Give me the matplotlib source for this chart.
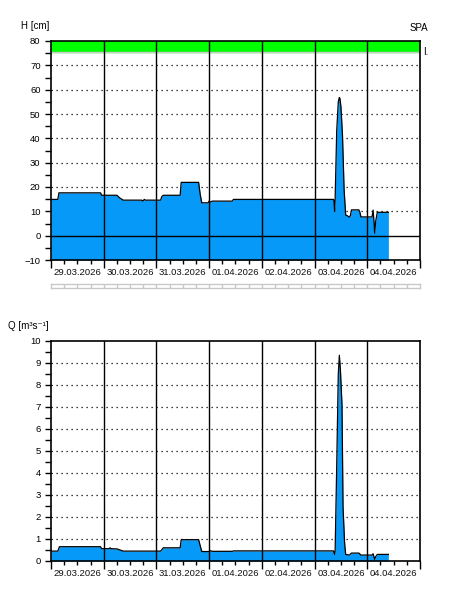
import matplotlib
matplotlib.use("Agg")
import matplotlib.pyplot as plt
import numpy as np

plt.rcParams['font.family'] = ['Liberation Sans', 'DejaVu Sans']

# time in days since 29.03.2026 00:00
h_days = [0.0, 0.13, 0.15, 0.94, 0.96, 1.25, 1.30, 1.37, 1.72, 1.74, 1.77, 1.79, 2.08, 2.10, 2.13,
          2.45, 2.47, 2.80, 2.83, 2.86, 2.98, 3.00, 3.02, 3.06, 3.44, 3.46, 5.36, 5.37, 5.38, 5.39,
          5.42, 5.45, 5.47, 5.48, 5.50, 5.53, 5.56, 5.59, 5.62, 5.66, 5.68, 5.70, 5.84, 5.86, 5.88,
          6.09, 6.11, 6.13, 6.14, 6.16, 6.19, 6.40]
h_vals = [14.9, 14.9, 17.6, 17.6, 16.6, 16.6, 15.6, 14.6, 14.6, 14.2, 14.9, 14.6, 14.6, 16.0, 16.6,
          16.6, 21.9, 21.9, 17.0, 13.5, 13.5, 14.2, 13.8, 14.2, 14.2, 14.9, 14.9, 14.0, 10.0, 14.9,
          43.0, 55.0, 56.8, 56.5, 53.0, 41.0, 19.0, 8.5, 8.2, 7.6, 8.3, 10.6, 10.6, 9.6, 7.7,
          7.7, 10.5, 5.0, 1.0, 6.0, 9.6, 9.6]

q_days = [0.0, 0.13, 0.16, 0.94, 0.96, 1.10, 1.12, 1.14, 1.25, 1.37, 2.08, 2.13, 2.45, 2.47, 2.80,
          2.86, 3.00, 3.02, 3.06, 3.44, 3.46, 5.36, 5.38, 5.39, 5.42, 5.45, 5.47, 5.49, 5.52, 5.54,
          5.57, 5.59, 5.66, 5.70, 5.84, 5.88, 6.09, 6.11, 6.14, 6.16, 6.19, 6.40]
q_vals = [0.45, 0.45, 0.65, 0.65, 0.56, 0.56, 0.60, 0.56, 0.55, 0.45, 0.45, 0.60, 0.60, 0.97, 0.97,
          0.43, 0.43, 0.47, 0.44, 0.44, 0.46, 0.46, 0.30, 0.46, 4.30, 8.50, 9.35, 8.70, 7.10, 2.45,
          0.80, 0.30, 0.27, 0.36, 0.36, 0.27, 0.27, 0.33, 0.08, 0.20, 0.30, 0.30]

day_labels = ["29.03.2026", "30.03.2026", "31.03.2026", "01.04.2026",
              "02.04.2026", "03.04.2026", "04.04.2026"]

fill_color = '#0799f7'
W, H = 450, 600
fig = plt.figure(figsize=(4.5, 6), dpi=100)

def px_axes(x0, y0, x1, y1):
    return fig.add_axes([x0 / W, 1 - y1 / H, (x1 - x0) / W, (y1 - y0) / H])

ndays = len(day_labels)

def style_time_axis(ax):
    ax.set_xlim(0, ndays)
    ax.set_xticks(np.arange(0, ndays + 0.01, 1))
    ax.set_xticks(np.arange(0, ndays + 0.01, 0.25), minor=True)
    ax.tick_params(axis='x', which='major', length=6, width=1, labelbottom=False, direction='out')
    ax.tick_params(axis='x', which='minor', length=3, width=1, direction='out')
    for i, lab in enumerate(day_labels):
        ax.text(i + 0.5, -0.035, lab, transform=ax.get_xaxis_transform(),
                ha='center', va='top', fontsize=6.8, color='#101010')
    for d in range(1, ndays):
        ax.axvline(d, color='black', lw=1, zorder=4)
    for s in ax.spines.values():
        s.set_linewidth(1.2)
        s.set_zorder(6)

# --- H axes ---
axh = px_axes(51, 41, 420, 260)
axh.set_ylim(-10, 80)
axh.fill_between(h_days, -10, h_vals, color=fill_color, lw=0, zorder=2)
axh.plot(h_days, h_vals, color='black', lw=0.9, zorder=3)
axh.axhspan(75.5, 80, color='#00ff00', zorder=1)
axh.axhline(75.5, color='#c8c8c8', lw=1, zorder=1.5)
for yv in range(10, 80, 10):
    axh.axhline(yv, color='black', lw=0.9, ls=(0, (1, 3)), zorder=1)
axh.axhline(0, color='black', lw=1, zorder=4)
axh.set_yticks(np.arange(-10, 81, 10))
axh.set_yticks(np.arange(-10, 81, 5), minor=True)
axh.tick_params(axis='y', which='both', length=4, width=1, labelsize=6.8)
style_time_axis(axh)

fig.text(21 / W, 1 - 26 / H, "H [cm]", fontsize=7, va='center', ha='left')
fig.text(428 / W, 1 - 28 / H, "SPA", fontsize=7, va='center', ha='right')
fig.text(423 / W, 1 - 52 / H, "I.", fontsize=7, va='center', ha='left')

# --- gray scroll bar ---
axb = px_axes(51, 284, 420, 288)
axb.set_xlim(0, ndays)
axb.set_ylim(0, 1)
axb.set_xticks([])
axb.set_yticks([])
for s in axb.spines.values():
    s.set_color('#c8c8c8')
    s.set_linewidth(1)
for xv in np.arange(0.25, ndays, 0.25):
    axb.axvline(xv, color='#c8c8c8', lw=1)

# --- Q axes ---
axq = px_axes(51, 341, 420, 561)
axq.set_ylim(0, 10)
axq.fill_between(q_days, 0, q_vals, color=fill_color, lw=0, zorder=2)
axq.plot(q_days, q_vals, color='black', lw=0.9, zorder=3)
for yv in range(1, 10):
    axq.axhline(yv, color='black', lw=0.9, ls=(0, (1, 3)), zorder=1)
axq.set_yticks(np.arange(0, 11, 1))
axq.set_yticks(np.arange(0, 10.01, 0.5), minor=True)
axq.tick_params(axis='y', which='both', length=4, width=1, labelsize=6.8)
style_time_axis(axq)

fig.text(8 / W, 1 - 326 / H, "Q [m³s⁻¹]", fontsize=7, va='center', ha='left')

fig.savefig("out.png", dpi=100)
